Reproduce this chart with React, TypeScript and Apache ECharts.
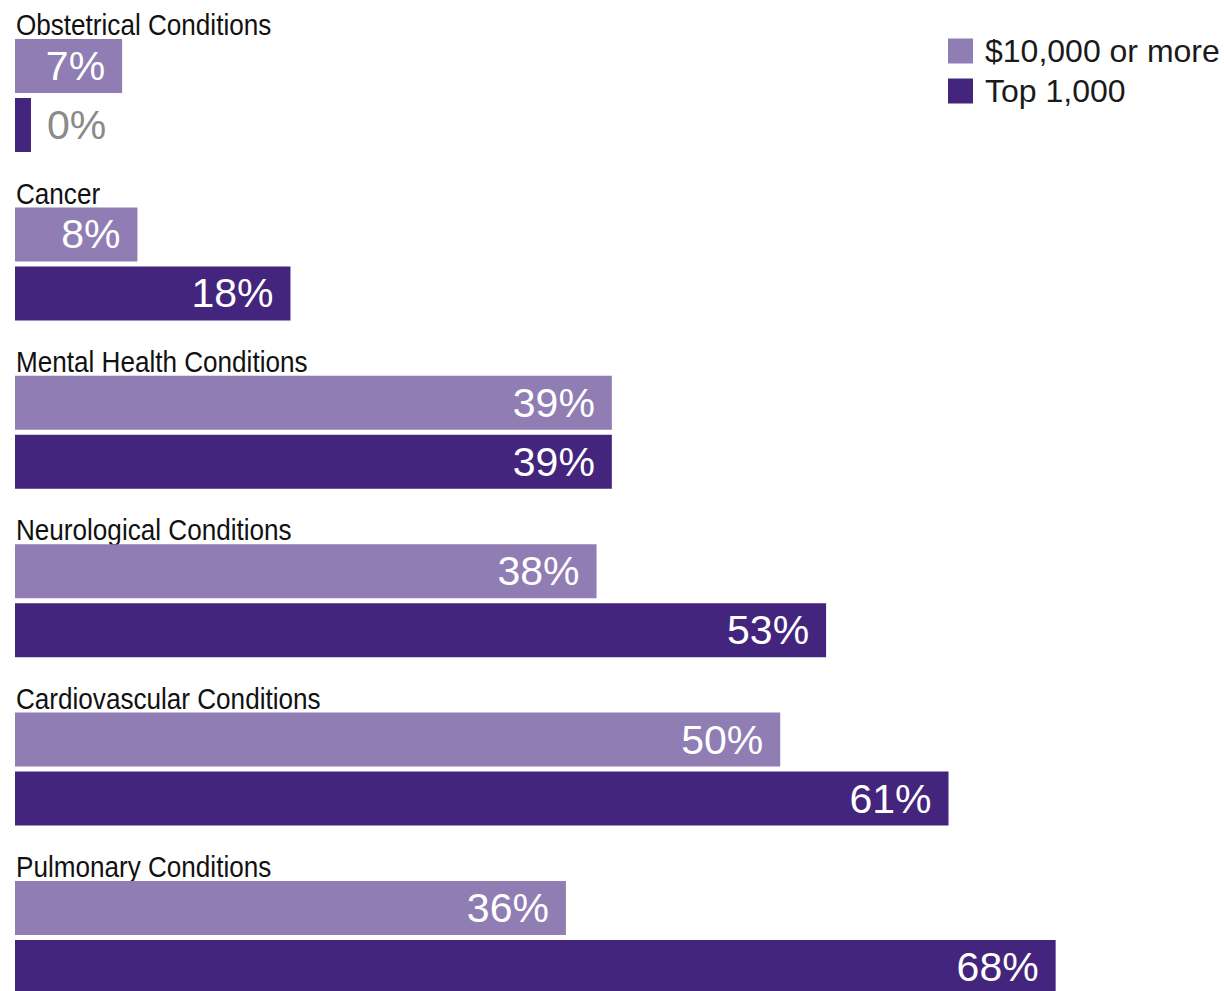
import React, { useEffect, useRef } from "react";
import * as echarts from "echarts";

const categories = [
  "Obstetrical Conditions",
  "Cancer",
  "Mental Health Conditions",
  "Neurological Conditions",
  "Cardiovascular Conditions",
  "Pulmonary Conditions",
];
const seriesNames = ["$10,000 or more", "Top 1,000"];
const highCost = [7, 8, 39, 38, 50, 36];
const top1000 = [0, 18, 39, 53, 61, 68];
const colors = ["#8F7DB3", "#44257E"];

const sans = '"Liberation Sans", Arial, sans-serif';
const BAR = 54;
const GAP = 5;

function toData(values: number[]) {
  return values.map((v) =>
    v === 0
      ? { value: v, label: { position: "right", color: "#8a8a8a", distance: 16 } }
      : { value: v }
  );
}

export default function App() {
  const ref = useRef<HTMLDivElement>(null);
  useEffect(() => {
    if (!ref.current) return;
    const chart = echarts.init(ref.current, null, { renderer: "svg" });
    const label = {
      show: true,
      position: "insideRight",
      distance: 17,
      color: "#ffffff",
      fontSize: 41,
      fontFamily: sans,
      formatter: "{c}%",
    };
    chart.setOption({
      animation: false,
      legend: {
        orient: "vertical",
        left: 948,
        top: 35,
        padding: 0,
        itemWidth: 25,
        itemHeight: 25,
        itemGap: 8,
        icon: "rect",
        textStyle: { fontSize: 32, fontFamily: sans, color: "#1a1a1a", padding: [0, 0, 0, 7] },
        data: seriesNames,
      },
      grid: { left: 15, top: 11.3, width: 1209, height: 1010.4, containLabel: false },
      xAxis: {
        type: "value",
        min: 0,
        max: 79,
        show: false,
      },
      yAxis: {
        type: "category",
        data: categories,
        inverse: true,
        axisLine: { show: false },
        axisTick: { show: false },
        splitLine: { show: false },
        axisLabel: { show: false },
      },
      series: [
        {
          name: seriesNames[0],
          type: "bar",
          data: toData(highCost),
          barWidth: BAR,
          barGap: (GAP / BAR) * 100 + "%",
          itemStyle: { color: colors[0] },
          label,
        },
        {
          name: seriesNames[1],
          type: "bar",
          data: toData(top1000),
          barWidth: BAR,
          barGap: (GAP / BAR) * 100 + "%",
          barMinHeight: 16,
          itemStyle: { color: colors[1] },
          label,
        },
        {
          name: "categoryLabels",
          type: "custom",
          silent: true,
          clip: false,
          encode: { x: 0, y: 1 },
          data: categories.map((c, i) => [0, i]),
          renderItem: (params: any, api: any) => {
            const idx = api.value(1);
            const p = api.coord([0, idx]);
            return {
              type: "text",
              x: p[0] + 1,
              y: p[1] - BAR - GAP / 2 + 1,
              scaleX: 0.87,
              style: {
                text: categories[idx],
                fontSize: 30,
                fontFamily: sans,
                fill: "#111111",
                align: "left",
                verticalAlign: "bottom",
              },
            };
          },
        },
      ],
    });
    return () => chart.dispose();
  }, []);
  return (
    <div
      ref={ref}
      style={{ position: "fixed", left: 0, top: 0, width: 1224, height: 1030, background: "#fff" }}
    />
  );
}
